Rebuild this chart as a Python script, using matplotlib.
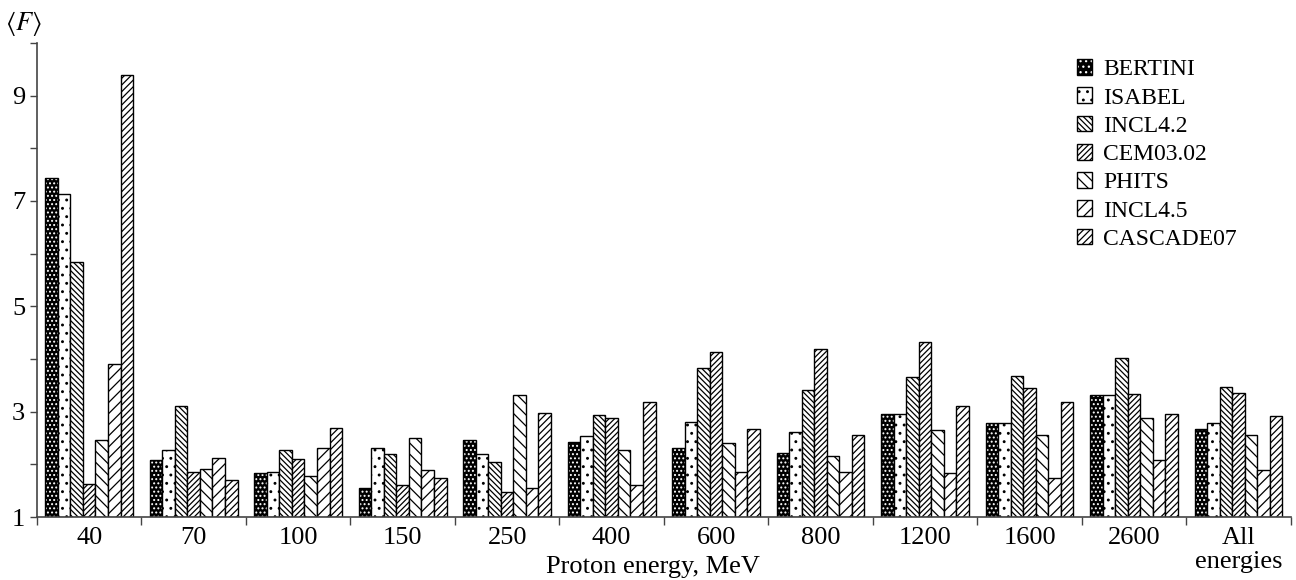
import numpy as np
import matplotlib
matplotlib.use("Agg")
import matplotlib.pyplot as plt
from matplotlib.patches import Patch

# Mean factor <F> per model and proton energy
energies = ["40", "70", "100", "150", "250", "400", "600", "800", "1200", "1600", "2600", "All\nenergies"]
models = ["BERTINI", "ISABEL", "INCL4.2", "CEM03.02", "PHITS", "INCL4.5", "CASCADE07"]

bertini = [7.44, 2.08, 1.83, 1.55, 2.47, 2.43, 2.31, 2.21, 2.95, 2.78, 3.31, 2.67]
isabel = [7.13, 2.28, 1.85, 2.31, 2.20, 2.54, 2.81, 2.62, 2.95, 2.78, 3.31, 2.78]
incl42 = [5.84, 3.10, 2.28, 2.19, 2.04, 2.93, 3.82, 3.42, 3.65, 3.67, 4.02, 3.46]
cem0302 = [1.63, 1.85, 2.11, 1.61, 1.47, 2.88, 4.13, 4.18, 4.32, 3.45, 3.33, 3.36]
phits = [2.46, 1.92, 1.78, 2.50, 3.31, 2.28, 2.40, 2.16, 2.65, 2.55, 2.88, 2.55]
incl45 = [3.91, 2.12, 2.31, 1.89, 1.56, 1.60, 1.85, 1.85, 1.83, 1.75, 2.08, 1.90]
cascade07 = [9.40, 1.71, 2.69, 1.75, 2.97, 3.18, 2.67, 2.55, 3.11, 3.18, 2.96, 2.92]

series = [bertini, isabel, incl42, cem0302, phits, incl45, cascade07]
hatches = ["....", "..", "\\" * 6, "/" * 6, "\\" * 3, "/" * 3, "/" * 5]

plt.rcParams["font.family"] = ["Liberation Serif", "DejaVu Serif"]
plt.rcParams["mathtext.fontset"] = "stix"
plt.rcParams["hatch.linewidth"] = 0.9

fig = plt.figure(figsize=(12.96, 5.8), dpi=100)
ax = fig.add_axes([0.0285, 0.1086, 0.9675, 0.8174])

x = np.arange(len(energies))
width = 0.12
handles = []
for i, (vals, name) in enumerate(zip(series, models)):
    pos = x + (i - 3) * width
    heights = np.array(vals) - 1
    if i == 0:
        # black bar with white dots on top
        ax.bar(pos, heights, width, bottom=1, color="black", linewidth=0)
        ax.bar(pos, heights, width, bottom=1, fill=False, hatch=hatches[i],
               edgecolor="white", linewidth=0)
        ax.bar(pos, heights, width, bottom=1, fill=False,
               edgecolor="black", linewidth=1.0)
        h = (Patch(facecolor="black", linewidth=0),
             Patch(fill=False, hatch="...", edgecolor="white", linewidth=0),
             Patch(fill=False, edgecolor="black", linewidth=1.0))
    else:
        ax.bar(pos, heights, width, bottom=1, color="white",
               edgecolor="black", hatch=hatches[i], linewidth=1.0)
        h = Patch(facecolor="white", edgecolor="black", hatch=hatches[i], linewidth=1.0)
    handles.append(h)

ax.set_xlim(-0.5, len(energies) - 0.5)
ax.set_ylim(1, 10)
ax.set_yticks(range(1, 11))
ax.set_yticklabels([str(v) if v % 2 == 1 else "" for v in range(1, 11)])
ax.set_xticks(x)
ax.set_xticklabels(energies, linespacing=1.12, va="top")
ax.set_xticks(np.arange(-0.5, len(energies)), minor=True)
ax.tick_params(axis="x", which="major", length=0, labelsize=19, pad=7.5)
ax.tick_params(axis="x", which="minor", length=6, width=1.0, color="#444444")
ax.tick_params(axis="y", length=5, width=1.0, color="#444444", labelsize=19, pad=3.5)

for side in ["top", "right"]:
    ax.spines[side].set_visible(False)
for side in ["left", "bottom"]:
    ax.spines[side].set_color("#444444")
    ax.spines[side].set_linewidth(1.2)

fig.text(0.504, 0.0125, "Proton energy, MeV", fontsize=19, ha="center", va="baseline")
fig.text(0.004, 0.985, r"$\langle F\rangle$", fontsize=19, va="top", ha="left")

leg = fig.legend(handles, models, loc="upper left", bbox_to_anchor=(0.831, 0.898),
                 frameon=False, fontsize=17, handlelength=0.65, handleheight=0.65,
                 handletextpad=0.45, labelspacing=0.3, borderpad=0, borderaxespad=0)

fig.savefig("out.png", dpi=100)
